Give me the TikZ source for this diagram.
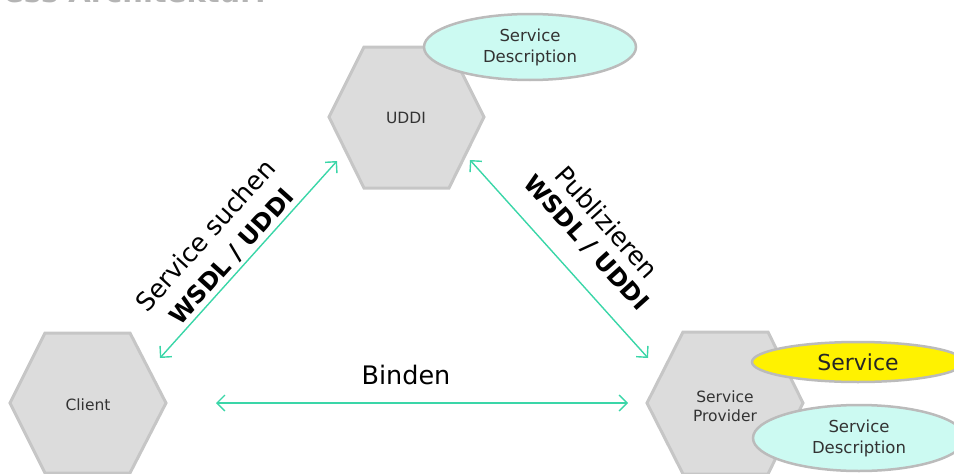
\documentclass[tikz,border=0pt]{standalone}
\usepackage{fontspec}
\setmainfont{DejaVu Sans}
\usetikzlibrary{shapes.geometric,arrows.meta}
\definecolor{hexfill}{HTML}{DCDCDC}
\definecolor{hexline}{HTML}{C6C6C6}
\definecolor{cyanfill}{HTML}{CCFAF2}
\definecolor{ellline}{HTML}{BBBBBB}
\definecolor{arrowc}{HTML}{3AD6A8}
\definecolor{txtgray}{HTML}{333333}
\definecolor{titlegray}{HTML}{B4B4B4}
\tikzset{
  hexshape/.style={fill=hexfill,draw=hexline,line width=3pt,line join=miter},
  hextext/.style={text=txtgray,font=\fontsize{15.5}{19}\selectfont,align=center,inner sep=0pt},
  descell/.style={ellipse,fill=cyanfill,draw=ellline,line width=2.5pt,minimum width=212pt,minimum height=66pt,inner sep=0pt,align=center,text=txtgray,font=\fontsize{16.5}{21}\selectfont},
  servell/.style={ellipse,fill=yellow,draw=ellline,line width=2.5pt,minimum width=212pt,minimum height=40pt,inner sep=0pt,text=black!85,font=\fontsize{22}{26}\selectfont},
  conn/.style={draw=arrowc,line width=1.4pt,{Straight Barb[length=8pt,width=16pt]}-{Straight Barb[length=8pt,width=16pt]}},
  lbl/.style={font=\fontsize{25.5}{30}\selectfont,inner sep=0pt},
  lblb/.style={font=\bfseries\fontsize{24}{28}\selectfont,inner sep=0pt}
}
\begin{document}
\begin{tikzpicture}[x=1pt,y=-1pt]
\useasboundingbox (0,0) rectangle (954,474);
\begin{scope}
\clip (0,0) rectangle (954,474);
% title fragment
\node[anchor=base west,text=titlegray,font=\bfseries\fontsize{29}{32}\selectfont,inner sep=0pt] (title) at (4,2.5) {ess Architektur:};
% hexagons
\draw[hexshape] (364,47) -- (449,47) -- (484,117) -- (449,188) -- (364,188) -- (329,117) -- cycle;
\draw[hexshape] (45,333) -- (130,333) -- (166,403) -- (130,473) -- (45,473) -- (10,403) -- cycle;
\draw[hexshape] (683,332) -- (768,332) -- (803,403) -- (768,474) -- (683,474) -- (647,403) -- cycle;
\node[hextext] (uddi) at (406,118) {UDDI};
\node[hextext] (client) at (88,405) {Client};
\node[hextext] (sp) at (725,406) {Service\\Provider};
% ellipses
\node[descell] (desc1) at (530,47) {Service\\Description};
\node[servell] (serv) at (858,362) {Service};
\node[descell] (desc2) at (859,438) {Service\\Description};
\end{scope}
% connector ends
\coordinate (c1) at (160,358);
\coordinate (u1) at (337,161);
\coordinate (u2) at (470,160);
\coordinate (p1) at (648,358);
\coordinate (c2) at (216,403);
\coordinate (p2) at (628,403);
\draw[conn] (c1) -- (u1);
\draw[conn] (u2) -- (p1);
\draw[conn] (c2) -- (p2);
% labels
\node[lbl,rotate=48] (l1) at (205,235) {Service suchen};
\node[lblb,rotate=48] (l2) at (232,257) {WSDL / UDDI};
\node[lbl,rotate=-48] (l3) at (607,222) {Publizieren};
\node[lblb,rotate=-48] (l4) at (586,243) {WSDL / UDDI};
\node[lbl,anchor=base] (l5) at (406,384) {Binden};
\end{tikzpicture}
\end{document}
